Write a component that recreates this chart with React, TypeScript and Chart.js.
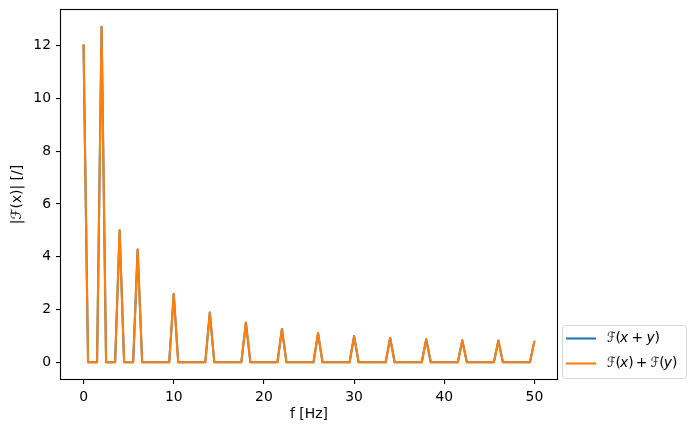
import React, { useEffect, useRef } from "react";
import { Chart, registerables } from "chart.js";

Chart.register(...registerables);

// Frequency axis (Hz)
const freqs = [
  0, 0.5, 1, 1.5, 2, 2.5, 3, 3.5, 4, 4.5,
  5, 5.5, 6, 6.5, 7, 7.5, 8, 8.5, 9, 9.5,
  10, 10.5, 11, 11.5, 12, 12.5, 13, 13.5, 14, 14.5,
  15, 15.5, 16, 16.5, 17, 17.5, 18, 18.5, 19, 19.5,
  20, 20.5, 21, 21.5, 22, 22.5, 23, 23.5, 24, 24.5,
  25, 25.5, 26, 26.5, 27, 27.5, 28, 28.5, 29, 29.5,
  30, 30.5, 31, 31.5, 32, 32.5, 33, 33.5, 34, 34.5,
  35, 35.5, 36, 36.5, 37, 37.5, 38, 38.5, 39, 39.5,
  40, 40.5, 41, 41.5, 42, 42.5, 43, 43.5, 44, 44.5,
  45, 45.5, 46, 46.5, 47, 47.5, 48, 48.5, 49, 49.5,
  50,
];

// |F(x + y)|
const magSum = [
  12.05, 0, 0, 0, 12.72, 0, 0, 0, 5.0, 0,
  0, 0, 4.27, 0, 0, 0, 0, 0, 0, 0,
  2.59, 0, 0, 0, 0, 0, 0, 0, 1.88, 0,
  0, 0, 0, 0, 0, 0, 1.5, 0, 0, 0,
  0, 0, 0, 0, 1.26, 0, 0, 0, 0, 0,
  0, 0, 1.1, 0, 0, 0, 0, 0, 0, 0,
  0.99, 0, 0, 0, 0, 0, 0, 0, 0.92, 0,
  0, 0, 0, 0, 0, 0, 0.87, 0, 0, 0,
  0, 0, 0, 0, 0.83, 0, 0, 0, 0, 0,
  0, 0, 0.82, 0, 0, 0, 0, 0, 0, 0,
  0.81,
];

// |F(x) + F(y)|
const magSeparate = [
  12.05, 0, 0, 0, 12.72, 0, 0, 0, 5.0, 0,
  0, 0, 4.27, 0, 0, 0, 0, 0, 0, 0,
  2.59, 0, 0, 0, 0, 0, 0, 0, 1.88, 0,
  0, 0, 0, 0, 0, 0, 1.5, 0, 0, 0,
  0, 0, 0, 0, 1.26, 0, 0, 0, 0, 0,
  0, 0, 1.1, 0, 0, 0, 0, 0, 0, 0,
  0.99, 0, 0, 0, 0, 0, 0, 0, 0.92, 0,
  0, 0, 0, 0, 0, 0, 0.87, 0, 0, 0,
  0, 0, 0, 0, 0.83, 0, 0, 0, 0, 0,
  0, 0, 0.82, 0, 0, 0, 0, 0, 0, 0,
  0.81,
];

const xTicks = [0, 10, 20, 30, 40, 50];
const yTicks = [0, 2, 4, 6, 8, 10, 12];
const seriesLabels = ["ℱ(x + y)", "ℱ(x) + ℱ(y)"];
const seriesColors = ["#1f77b4", "#ff7f0e"];
const xTitle = "f [Hz]";
const yTitle = "|ℱ(x)| [/]";

const FONT = "'DejaVu Sans', sans-serif";
const FS = 13.9;

function drawMathText(ctx: CanvasRenderingContext2D, text: string, x: number, y: number) {
  let cx = x;
  for (const ch of text) {
    if (ch === " ") {
      cx += 3.3;
      continue;
    }
    const italic = ch === "x" || ch === "y";
    ctx.font = `${italic ? "italic " : ""}${FS}px ${FONT}`;
    const w = ctx.measureText(ch).width;
    if (ch === "ℱ") {
      const target = 8.6;
      const sx = Math.min(1, target / w);
      ctx.save();
      ctx.translate(cx, y);
      ctx.scale(sx, 1);
      ctx.fillText(ch, 0, 0);
      ctx.restore();
      cx += target;
    } else {
      const adv = ch === "(" || ch === ")" ? w * 0.8 : w;
      ctx.fillText(ch, cx, y);
      cx += adv;
    }
  }
}

const framePlugin = {
  id: "frameAndLegend",
  afterDraw(chart: any) {
    const { ctx, chartArea } = chart;
    const { left, right, top, bottom } = chartArea;
    ctx.save();
    ctx.strokeStyle = "#000";
    ctx.lineWidth = 1.1;
    ctx.strokeRect(Math.round(left) - 0.5, Math.round(top) - 0.5, Math.round(right - left) + 1, Math.round(bottom - top) + 1);

    // legend (outside, lower right)
    const lx = 562.5, ly = 325.5, lw = 124, lh = 53, r = 3;
    ctx.beginPath();
    ctx.moveTo(lx + r, ly);
    ctx.lineTo(lx + lw - r, ly);
    ctx.arcTo(lx + lw, ly, lx + lw, ly + r, r);
    ctx.lineTo(lx + lw, ly + lh - r);
    ctx.arcTo(lx + lw, ly + lh, lx + lw - r, ly + lh, r);
    ctx.lineTo(lx + r, ly + lh);
    ctx.arcTo(lx, ly + lh, lx, ly + lh - r, r);
    ctx.lineTo(lx, ly + r);
    ctx.arcTo(lx, ly, lx + r, ly, r);
    ctx.closePath();
    ctx.fillStyle = "rgba(255,255,255,0.8)";
    ctx.fill();
    ctx.strokeStyle = "#d6d6d6";
    ctx.lineWidth = 1;
    ctx.stroke();

    chart.data.datasets.forEach((ds: any, i: number) => {
      const yy = 338.5 + i * 25;
      ctx.beginPath();
      ctx.strokeStyle = ds.borderColor;
      ctx.lineWidth = 2.1;
      ctx.moveTo(566, yy);
      ctx.lineTo(596, yy);
      ctx.stroke();
      ctx.fillStyle = "#000";
      ctx.textBaseline = "middle";
      ctx.textAlign = "left";
      drawMathText(ctx, ds.label, 607, yy);
    });
    ctx.restore();
  },
};

export default function App() {
  const canvasRef = useRef<HTMLCanvasElement | null>(null);

  useEffect(() => {
    document.body.style.margin = "0";
    const canvas = canvasRef.current;
    if (!canvas) return;

    const chart = new Chart(canvas, {
      type: "line",
      data: {
        datasets: [
          {
            label: seriesLabels[0],
            data: freqs.map((f, i) => ({ x: f, y: magSum[i] })),
            borderColor: seriesColors[0],
            backgroundColor: seriesColors[0],
            borderWidth: 2.1,
            pointRadius: 0,
            tension: 0,
            borderJoinStyle: "round",
            order: 1,
          },
          {
            label: seriesLabels[1],
            data: freqs.map((f, i) => ({ x: f, y: magSeparate[i] })),
            borderColor: seriesColors[1],
            backgroundColor: seriesColors[1],
            borderWidth: 2.1,
            pointRadius: 0,
            tension: 0,
            borderJoinStyle: "round",
            order: 0,
          },
        ],
      },
      options: {
        animation: false,
        responsive: false,
        devicePixelRatio: 1,
        layout: { padding: { top: 10, right: 138, left: 0, bottom: 0 } },
        plugins: {
          legend: { display: false },
          tooltip: { enabled: false },
        },
        scales: {
          x: {
            type: "linear",
            min: -2.5,
            max: 52.5,
            afterBuildTicks: (s: any) => {
              s.ticks = xTicks.map((v) => ({ value: v }));
            },
            afterFit: (s: any) => {
              s.height = 53;
              s.paddingLeft = 0;
              s.paddingRight = 0;
            },
            grid: { display: true, drawOnChartArea: false, drawTicks: true, tickLength: 5, color: "#000", lineWidth: 1.1 },
            border: { display: false },
            ticks: {
              autoSkip: false,
              maxRotation: 0,
              padding: 5,
              color: "#000",
              font: { family: FONT, size: FS },
              callback: (v: any) => String(v),
            },
            title: {
              display: true,
              text: xTitle,
              color: "#000",
              font: { family: FONT, size: FS },
              padding: { top: 0, bottom: 9 },
            },
          },
          y: {
            type: "linear",
            min: -0.636,
            max: 13.356,
            afterBuildTicks: (s: any) => {
              s.ticks = yTicks.map((v) => ({ value: v }));
            },
            afterFit: (s: any) => {
              s.width = 61;
              s.paddingTop = 0;
              s.paddingBottom = 0;
            },
            grid: { display: true, drawOnChartArea: false, drawTicks: true, tickLength: 5, color: "#000", lineWidth: 1.1 },
            border: { display: false },
            ticks: {
              autoSkip: false,
              padding: 5,
              color: "#000",
              font: { family: FONT, size: FS },
              callback: (v: any) => String(v),
            },
            title: {
              display: true,
              text: yTitle,
              color: "#000",
              font: { family: FONT, size: FS },
              padding: { top: 9, bottom: 0 },
            },
          },
        },
      },
      plugins: [framePlugin],
    });

    return () => chart.destroy();
  }, []);

  return (
    <div style={{ width: 695, height: 432 }}>
      <canvas ref={canvasRef} width={695} height={432} style={{ display: "block" }} />
    </div>
  );
}
